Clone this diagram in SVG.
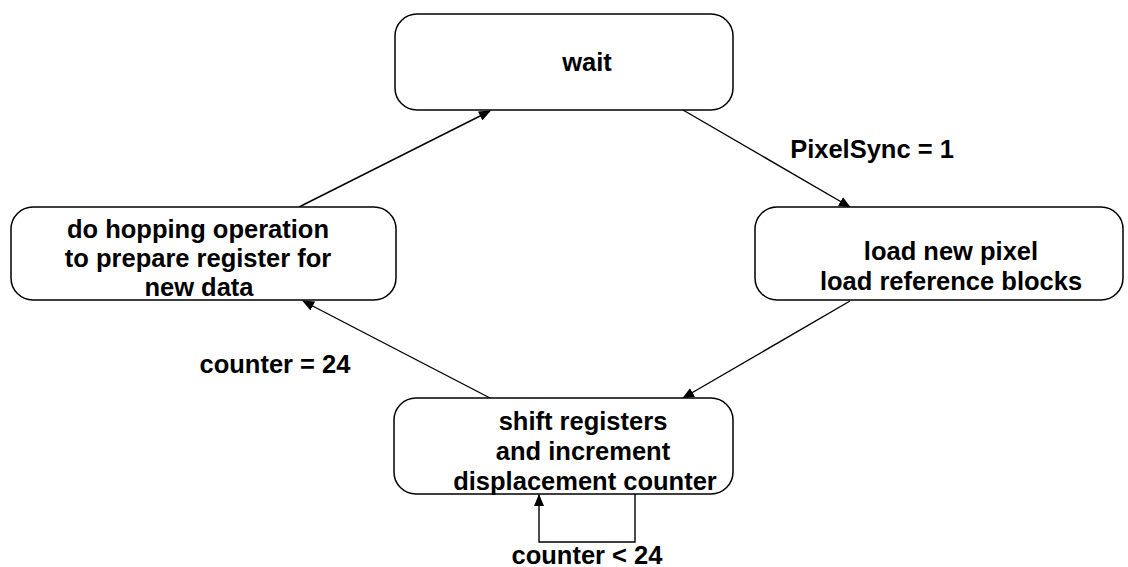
<svg xmlns="http://www.w3.org/2000/svg" width="1128" height="567" viewBox="0 0 1128 567">
<style>
.box{fill:#fff;stroke:#000;stroke-width:1.5}
.t{font-family:"Liberation Sans",Arial,sans-serif;font-weight:bold;font-size:25.5px;fill:#000;text-anchor:middle}
.c{fill:none;stroke:#000;stroke-width:1.4}
</style>
<defs>
<marker id="ah" viewBox="0 0 12 10" refX="11" refY="5" markerWidth="12" markerHeight="10" markerUnits="userSpaceOnUse" orient="auto">
<path d="M0,0 L12,5 L0,10 Z" fill="#000"/>
</marker>
</defs>
<rect width="1128" height="567" fill="#fff"/>
<g id="connectors">
<line class="c" x1="299" y1="207" x2="490" y2="111" marker-end="url(#ah)"/>
<line class="c" x1="683" y1="110" x2="850" y2="207" marker-end="url(#ah)"/>
<line class="c" x1="850" y1="301" x2="683" y2="398" marker-end="url(#ah)"/>
<line class="c" x1="490" y1="398" x2="303" y2="301" marker-end="url(#ah)"/>
<polyline class="c" points="635,494 635,542 539,542 539,495" marker-end="url(#ah)"/>
</g>
<g id="node-wait">
<rect class="box" x="395" y="14" width="338" height="96" rx="22"/>
<text class="t" x="587" y="71">wait</text>
</g>
<g id="node-hop">
<rect class="box" x="11" y="207" width="385" height="93" rx="22"/>
<text class="t" x="198" y="238">do hopping operation</text>
<text class="t" x="198" y="267">to prepare register for</text>
<text class="t" x="199" y="296">new data</text>
</g>
<g id="node-load">
<rect class="box" x="755" y="207" width="368" height="93" rx="22"/>
<text class="t" x="951" y="260">load new pixel</text>
<text class="t" x="951" y="290">load reference blocks</text>
</g>
<g id="node-shift">
<rect class="box" x="394" y="398" width="339" height="96" rx="22"/>
<text class="t" x="583" y="430">shift registers</text>
<text class="t" x="583" y="460">and increment</text>
<text class="t" x="585" y="490">displacement counter</text>
</g>
<g id="labels">
<text class="t" x="872" y="158">PixelSync = 1</text>
<text class="t" x="275" y="373">counter = 24</text>
<text class="t" x="587" y="564">counter &lt; 24</text>
</g>
</svg>
